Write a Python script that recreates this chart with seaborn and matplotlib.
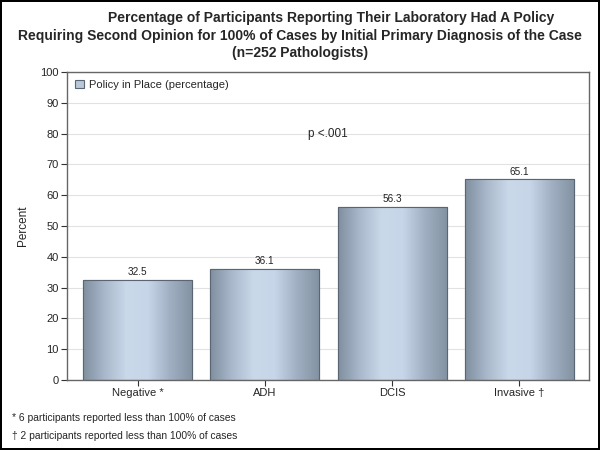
import matplotlib
matplotlib.use("Agg")
import matplotlib.pyplot as plt
import numpy as np
import pandas as pd
import seaborn as sns
from matplotlib.colors import LinearSegmentedColormap
from matplotlib.patches import Patch

categories = ["Negative *", "ADH", "DCIS", "Invasive \u2020"]
policy_pct = [32.5, 36.1, 56.3, 65.1]
series_name = "Policy in Place (percentage)"
title_lines = ["Percentage of Participants Reporting Their Laboratory Had A Policy",
               "Requiring Second Opinion for 100% of Cases by Initial Primary Diagnosis of the Case",
               "(n=252 Pathologists)"]
footnotes = ["* 6 participants reported less than 100% of cases",
             "\u2020 2 participants reported less than 100% of cases"]

df = pd.DataFrame({"Diagnosis": categories, "Percent": policy_pct})

sns.set_style("white")
plt.rcParams["font.family"] = ["Liberation Sans", "DejaVu Sans"]

fig = plt.figure(figsize=(6, 4.5), dpi=100)
fig.patch.set_edgecolor("black")
fig.patch.set_linewidth(1.5)
ax = fig.add_axes([67 / 600, 70 / 450, 522 / 600, 308 / 450])

sns.barplot(data=df, x="Diagnosis", y="Percent", color="#b0c0d2",
            width=0.856, edgecolor="#5a6673", linewidth=0.8, ax=ax, zorder=2)

# SAS-style shaded bars
cmap = LinearSegmentedColormap.from_list(
    "shade", ["#7f8fa0", "#a9b9cb", "#c9d9ea", "#c6d6e8", "#a0b0c2", "#8393a4"])
grad = np.linspace(0, 1, 256).reshape(1, -1)
for p in ax.patches:
    x0, y0 = p.get_x(), p.get_y()
    w, h = p.get_width(), p.get_height()
    im = ax.imshow(grad, cmap=cmap, aspect="auto", extent=[x0, x0 + w, y0, y0 + h],
                   zorder=2.1)
    im.set_clip_path(p)
    ax.add_patch(plt.Rectangle((x0, y0), w, h, fill=False, edgecolor="#5a6673",
                               linewidth=0.8, zorder=2.2))
    ax.text(x0 + w / 2, y0 + h + 0.8, f"{h:.1f}", ha="center", va="bottom",
            fontsize=7.2, color="#222222")

ax.set_xlim(-0.554, 3.547)
ax.set_ylim(0, 100)
ax.set_yticks(range(0, 101, 10))
ax.yaxis.grid(True, color="#e2e2e2", linewidth=0.8, zorder=0)
ax.set_axisbelow(True)
ax.tick_params(axis="both", labelsize=8, length=4, direction="out", color="#333333",
               left=True, bottom=True, pad=2)
for s in ax.spines.values():
    s.set_color("#666666")
    s.set_linewidth(1.0)
ax.set_xlabel("")
ax.set_ylabel("Percent", fontsize=8.5, labelpad=8)

ax.text(0.5, 0.80, "p <.001", transform=ax.transAxes, ha="center", va="center",
        fontsize=8.5)

leg = ax.legend(handles=[Patch(facecolor="#b8c8da", edgecolor="#5a6673", linewidth=0.8,
                               label=series_name)],
                loc="upper left", frameon=False, fontsize=8, handlelength=0.8,
                handleheight=0.8, handletextpad=0.5, borderaxespad=0.3,
                bbox_to_anchor=(0.0, 1.0))

# title: SAS centres each line on its own
for (cx, cy), line in zip([(331, 18), (300, 36), (300, 53)], title_lines):
    fig.text(cx / 600, 1 - cy / 450, line, ha="center", va="center", fontsize=10,
             fontweight="bold")

fig.text(12 / 600, 1 - 418 / 450, footnotes[0], fontsize=7.4, va="center")
fig.text(12 / 600, 1 - 436 / 450, footnotes[1], fontsize=7.4, va="center")

fig.savefig("out.png", dpi=100, edgecolor=fig.get_edgecolor())
